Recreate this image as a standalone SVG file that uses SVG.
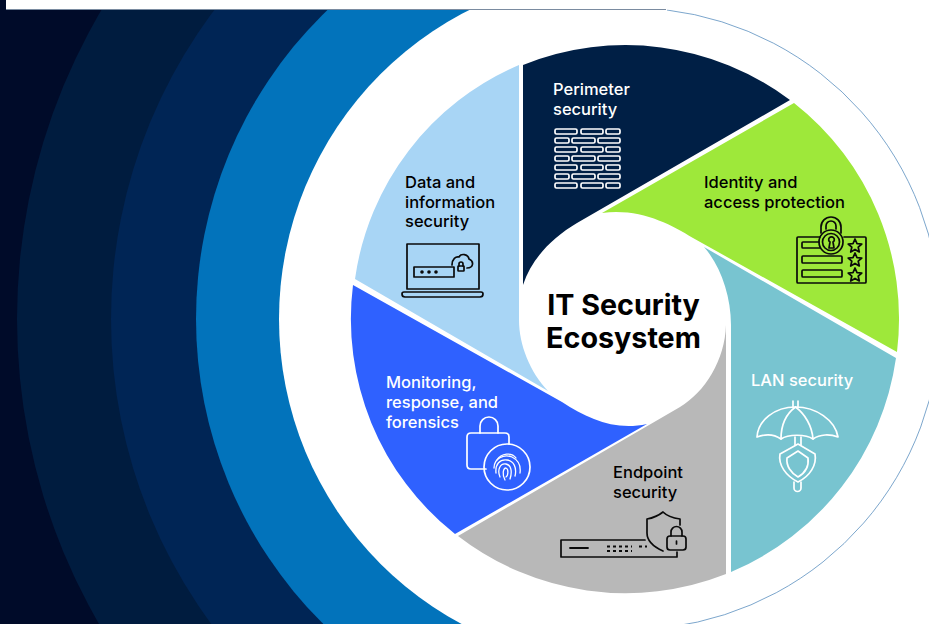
<svg xmlns="http://www.w3.org/2000/svg" width="929" height="624" viewBox="0 0 929 624">
<style>
text{font-family:Inter,"Liberation Sans",sans-serif;font-size:16.5px;font-weight:500}
.k{fill:#000}.w{fill:#fff}
.title{font-size:28.7px;font-weight:700;fill:#000;text-anchor:middle}
.iw{fill:none;stroke:#fff;stroke-width:1.7;stroke-linecap:round;stroke-linejoin:round}
.ik{fill:none;stroke:#0a0a0a;stroke-width:1.7;stroke-linecap:round;stroke-linejoin:round}
</style>
<defs>
<g id="brickA" class="iw"><rect x="555" width="22" height="5" rx="1.5"/><rect x="581" width="22" height="5" rx="1.5"/><rect x="606" width="14" height="5" rx="1.5"/></g>
<g id="brickB" class="iw"><rect x="555" width="14" height="5" rx="1.5"/><rect x="572" width="23" height="5" rx="1.5"/><rect x="598" width="22" height="5" rx="1.5"/></g>
<path id="star" d="M0,-7 L2,-2.4 L6.8,-2 L3.2,1.2 L4.3,6 L0,3.4 L-4.3,6 L-3.2,1.2 L-6.8,-2 L-2,-2.4 Z"/>
</defs>
<g id="background">
<rect width="929" height="624" fill="#000b29"/>
<circle cx="625" cy="319" r="608" fill="#001c3f"/>
<circle cx="625" cy="319" r="514" fill="#002555"/>
<circle cx="625" cy="319" r="429" fill="#0273bb"/>
<rect x="625" width="304" height="624" fill="#fff"/>
<circle cx="625" cy="319" r="346" fill="#fff"/>
<path d="M667,10 A311,311 0 0 1 670,627" fill="none" stroke="#5b8fbf" stroke-width="0.8"/>
<rect x="6" width="923" height="9.500" fill="#fff"/>
<rect x="6" y="9" width="660" height="1" fill="#7a8ba0"/>
</g>
<g id="connectors"></g>
<g id="node-perimeter">
<path d="M523,65 A274,274 0 0 1 790,100 L577,223 C552,238 532,258 523,285 Z" fill="#001f45"/>
<text class="w" x="553" y="95">Perimeter</text><text class="w" x="553" y="114.500">security</text>
<use href="#brickA" y="129"/><use href="#brickB" y="138"/><use href="#brickA" y="147"/><use href="#brickB" y="156"/><use href="#brickA" y="165"/><use href="#brickB" y="174"/><use href="#brickA" y="183"/>
</g>
<g id="node-identity">
<path d="M602,213 L794,103 A274,274 0 0 1 897,352 L693,238 C670,224 640,208 602,213 Z" fill="#9ee83a"/>
<text class="k" x="704" y="188">Identity and</text><text class="k" x="704" y="207.500">access protection</text>
<g class="ik">
<path d="M820,237 H798 Q797,237 797,238 V282 Q797,283 798,283 H865 Q866,283 866,282 V238 Q866,237 865,237 H844"/>
<path d="M821,233 V227 A10,10 0 0 1 841,227 V233"/><path d="M826,229 V226 A5,5 0 0 1 836,226 V229"/>
<circle cx="831" cy="242" r="12"/><circle cx="831" cy="242" r="8.500"/>
<path d="M829,248 L830,242 A2.800,2.800 0 1 1 833,242 L834,248 Z"/>
<path d="M819,242 H803 Q802,242 802,243 V247 Q802,248 803,248 H820"/>
<rect x="802" y="256" width="40" height="7" rx="1"/><rect x="802" y="270" width="40" height="7" rx="1"/>
<use href="#star" x="855" y="246"/><use href="#star" x="855" y="260"/><use href="#star" x="855" y="275"/>
</g>
</g>
<g id="node-lan">
<path d="M704,247 L896,358 A274,274 0 0 1 731,572 L731,325 C731,295 720,265 704,247 Z" fill="#78c4d0"/>
<text class="w" x="751" y="386">LAN security</text>
<g class="iw">
<path d="M793,401 V407 M798,401 V407"/>
<path d="M757,437 C758,420 775,407 795.500,407 C816,407 835,420 838,437 C830,434 820,434 813,439 C806,434 788,434 781,439 C774,434 765,434 757,437 Z"/>
<path d="M795.500,407 C786,414 781,426 781,439 M795.500,407 C805,414 812,426 813,439"/>
<path d="M795,437 V445 M801,437 V445"/>
<path d="M798,444 L815,454 C817,465 810,476 798,482 C786,476 778,465 780,454 Z"/>
<path d="M798,451 L808,458 C809,466 805,473 798,477 C791,473 786,466 787,458 Z"/>
<path d="M794,482 V488 A3.500,3.500 0 0 0 801,488 V482"/>
</g>
</g>
<g id="node-endpoint">
<path d="M726,325 L726,574 A274,274 0 0 1 458,536 L680,407 C705,392 725,360 726,325 Z" fill="#b8b8b8"/>
<text class="k" x="613" y="478">Endpoint</text><text class="k" x="613" y="497.500">security</text>
<g class="ik">
<path d="M645,540 H561 V557 H677 V552"/>
<path d="M570,548 H588" stroke-width="1.800"/>
<path d="M607,546.500 H632 M607,551 H632 M639,546.500 H647" stroke-width="1.800" stroke-linecap="butt" stroke-dasharray="3 3"/>
<path d="M680,525 V519 C673,518 667,516 663,512 C658,516 653,518 647,519 V533 C647,541 654,547 663,551"/>
<rect x="667" y="536" width="19" height="14" rx="3"/>
<path d="M671,536 V532 A5.500,5.500 0 0 1 682,532 V536"/>
<path d="M676.500,541 V544"/>
</g>
</g>
<g id="node-monitoring">
<path d="M647,424 L455,534 A274,274 0 0 1 353,285 L562,402 C588,419 615,431 647,424 Z" fill="#2f61ff"/>
<text class="w" x="386" y="388">Monitoring,</text><text class="w" x="386" y="408">response, and</text><text class="w" x="386" y="427.500">forensics</text>
<g class="iw">
<path d="M486,469 H471 Q467,469 467,465 V437 Q467,433 471,433 H505 Q509,433 509,437 V444"/>
<path d="M480,433 V426 A9,9 0 0 1 498,426 V433"/>
<circle cx="507" cy="467" r="23"/>
<g stroke-width="1.300">
<path d="M497,460 C501,453 512,452 516,458"/>
<path d="M494,468 C494,458 504,454 512,457 C518,460 521,466 520,473"/>
<path d="M496,473 C495,464 500,459 507,460 C514,461 517,468 515,476"/>
<path d="M500,477 C497,470 500,463 506,464 C512,465 512,473 510,479"/>
<path d="M505,480 C502,475 503,468 506,468 C509,469 508,476 506,477"/>
</g>
</g>
</g>
<g id="node-data">
<path d="M519,65 L519,320 C519,345 530,372 548,391 L355,279 A274,274 0 0 1 519,65 Z" fill="#a8d5f5"/>
<text class="k" x="405" y="188">Data and</text><text class="k" x="405" y="207.500">information</text><text class="k" x="405" y="227">security</text>
<g class="ik">
<rect x="407" y="244" width="72" height="45"/>
<path d="M404,292 H481 Q483,292 483,294 Q483,297 480,297 H405 Q402,297 402,294 Q402,292 404,292 Z"/>
<rect x="414" y="267" width="40" height="10"/>
<path d="M452,265 C452,259 456,256 459,257 C461,253 468,254 469,259 C474,261 474,268 467,268"/>
<rect x="458" y="266" width="6" height="5" rx="0.500"/><path d="M459,266 V264 A2,2 0 0 1 463,264 V266"/>
</g>
<g fill="#0a0a0a"><circle cx="422" cy="272" r="1.800"/><circle cx="429" cy="272" r="1.800"/><circle cx="436" cy="272" r="1.800"/></g>
</g>
<g id="node-center"><text class="title" x="623.500" y="315">IT Security</text><text class="title" x="623.500" y="348">Ecosystem</text></g>
</svg>
